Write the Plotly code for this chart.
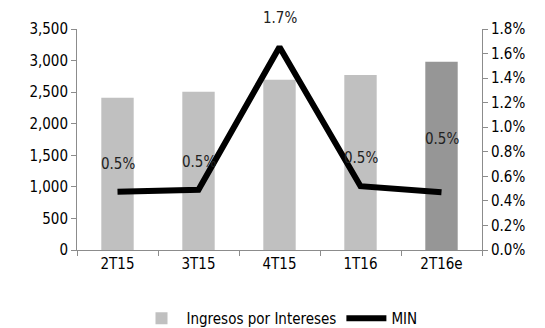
import plotly.graph_objects as go

categories = ["2T15", "3T15", "4T15", "1T16", "2T16e"]
ingresos = [2412, 2506, 2695, 2773, 2982]
min_vals = [0.474, 0.49, 1.654, 0.52, 0.47]
min_labels = ["0.5%", "0.5%", "1.7%", "0.5%", "0.5%"]
label_shift = [28, 28, 29, 28, 53]
bar_colors = ["#C0C0C0", "#C0C0C0", "#C0C0C0", "#C0C0C0", "#969696"]

FONT = "DejaVu Sans Condensed, Liberation Sans, Arial, sans-serif"
FS = 15

fig = go.Figure()
fig.add_trace(go.Bar(x=categories, y=ingresos, name="Ingresos por Intereses",
                     marker=dict(color=bar_colors, line=dict(width=0)), yaxis="y"))
fig.add_trace(go.Scatter(x=categories, y=min_vals, name="MIN", mode="lines",
                         line=dict(color="black", width=6), yaxis="y2"))

for c, v, t, s in zip(categories, min_vals, min_labels, label_shift):
    fig.add_annotation(x=c, y=v, yref="y2", text=t, showarrow=False, yshift=s,
                       font=dict(size=FS, color="#222222", family=FONT))

axis_common = dict(showgrid=False, zeroline=False, showline=True, linecolor="#8c8c8c",
                   linewidth=1, ticks="outside", ticklen=5, tickcolor="#8c8c8c",
                   tickfont=dict(size=FS, color="#000000", family=FONT))

fig.update_layout(
    width=545, height=350,
    margin=dict(l=69, r=71, t=17, b=108),
    paper_bgcolor="white", plot_bgcolor="white",
    bargap=0.6,
    showlegend=True,
    legend=dict(orientation="h", x=0.5, xanchor="center", y=-0.31, yanchor="middle",
                font=dict(size=FS, color="#000000", family=FONT), traceorder="normal",
                itemwidth=40),
    xaxis=dict(**axis_common, type="category", tickson="boundaries"),
    yaxis=dict(**axis_common, range=[0, 3500], dtick=500, tickformat=",d"),
    yaxis2=dict(**axis_common, overlaying="y", side="right", range=[0, 1.8], dtick=0.2,
                tickformat=".1f", ticksuffix="%"),
)

fig.write_html("out.html")
